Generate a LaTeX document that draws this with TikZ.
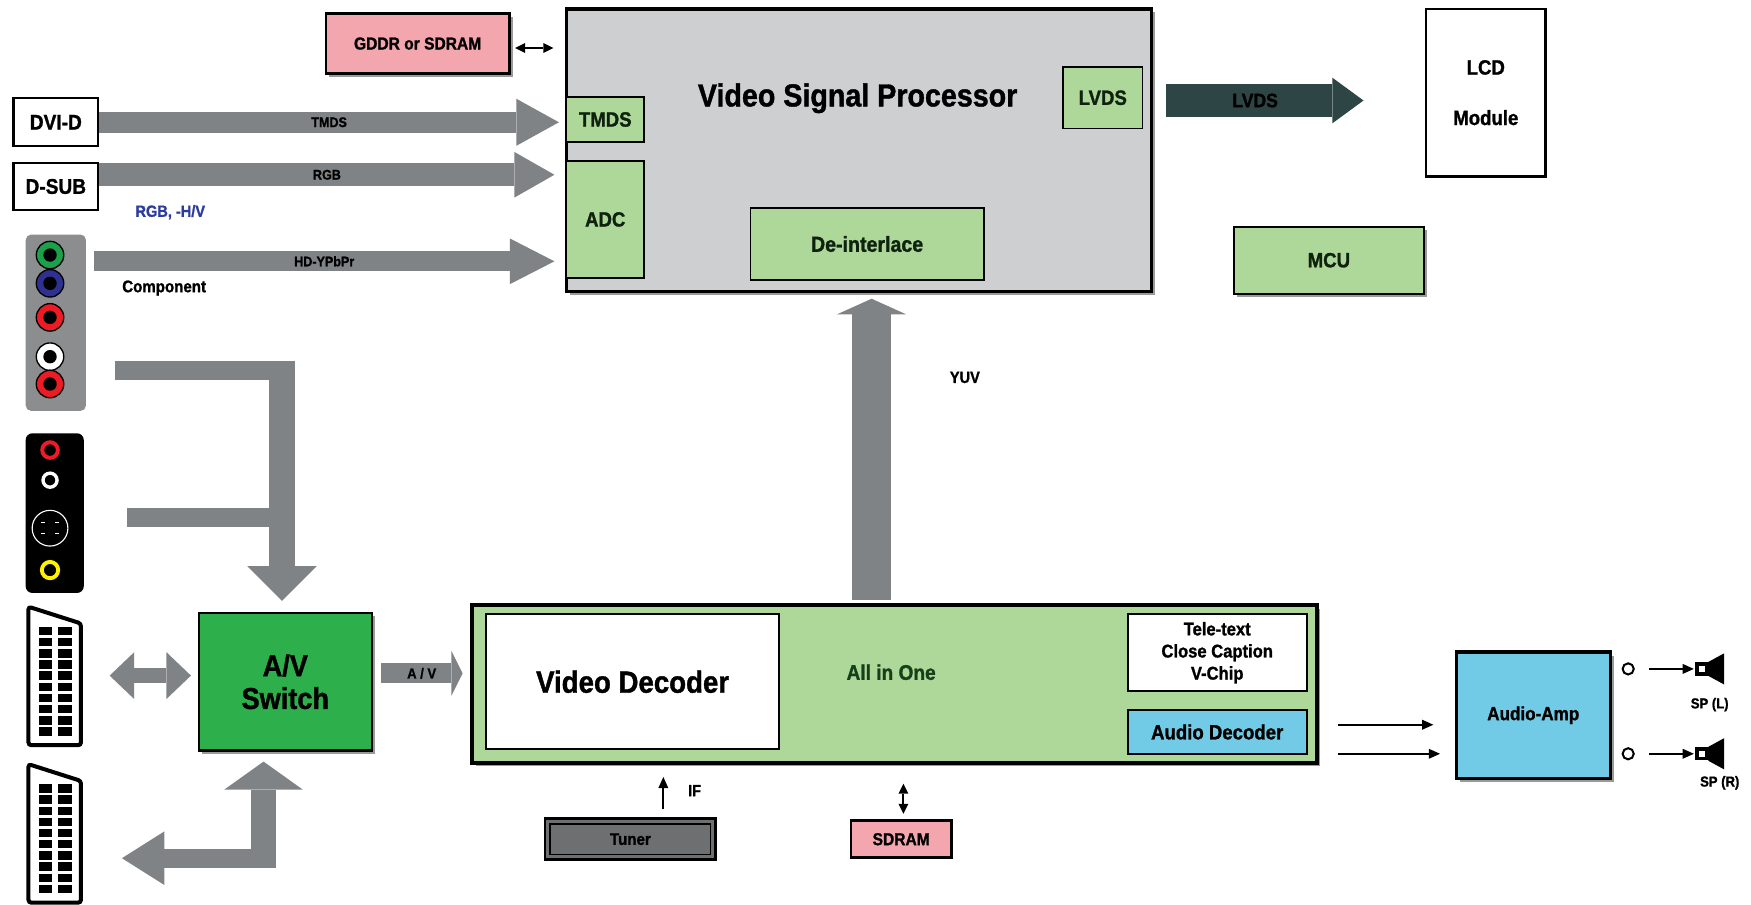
\documentclass[tikz,border=0pt]{standalone}
\usepackage{fontspec}
\setmainfont{Liberation Sans}[FakeStretch=0.9, BoldFeatures={FakeBold=1.2}]
\usetikzlibrary{arrows.meta,calc,shadows}
\definecolor{lgreen}{HTML}{AED899}
\definecolor{dgreen}{HTML}{2DB04B}
\definecolor{agray}{HTML}{808385}
\definecolor{vspgray}{HTML}{CDCFD1}
\definecolor{mypink}{HTML}{F3A6AE}
\definecolor{lblue}{HTML}{72CBE6}
\definecolor{dslate}{HTML}{2D4545}
\definecolor{tunergray}{HTML}{6D6F71}
\definecolor{panelgray}{HTML}{8B8D8F}
\definecolor{shadowgray}{HTML}{9A9A9A}
\definecolor{jgreen}{HTML}{1BA14B}
\definecolor{jblue}{HTML}{2E3192}
\definecolor{jred}{HTML}{ED1C24}
\definecolor{jyellow}{HTML}{FFF200}
\definecolor{rgbblue}{HTML}{2B3C9C}
\definecolor{txtgreen}{HTML}{0E220E}
\definecolor{aiotext}{HTML}{15401A}
\newcommand\myfs[1]{\fontsize{#1}{\fpeval{1.2*#1}}\selectfont}
\tikzset{
  fnt/.style={font=\bfseries\myfs{#1}},
  box/.style={draw=black, line width=2pt, inner sep=0pt, align=center, text=black},
  gbox/.style={box, fill=lgreen, line width=1.6pt, text=txtgreen},
  shad/.style={drop shadow={shadow xshift=3pt, shadow yshift=-3pt, fill=shadowgray, opacity=1}},
  lbl/.style={inner sep=0pt, text=black, align=center},
  barrow/.style n args={3}{draw=agray, line width=#1, -{Triangle[length=#2, width=#3, line width=0pt]}},
  dbarrow/.style n args={3}{draw=agray, line width=#1, {Triangle[length=#2, width=#3, line width=0pt]}-{Triangle[length=#2, width=#3, line width=0pt]}},
  tarrow/.style={draw=black, line width=1.8pt, -{Triangle[length=10pt, width=9pt, line width=0pt]}},
  tdarrow/.style={draw=black, line width=1.8pt, {Triangle[length=9pt, width=9pt, line width=0pt]}-{Triangle[length=9pt, width=9pt, line width=0pt]}},
}
\begin{document}
\begin{tikzpicture}[x=1pt,y=-1pt]
\useasboundingbox (0,0) rectangle (1568,810);
\fill[white] (0,0) rectangle (1568,810);

% ---------- Video Signal Processor ----------
\node[box, fill=vspgray, line width=3pt, shad, minimum width=524pt, minimum height=253pt] (vsp) at (769,134.5) {};
\node[lbl, fnt=28.5] (vsptitle) at (768,88) {Video Signal Processor};
\node[gbox, fnt=18.5, minimum width=70pt, minimum height=40pt] (tmds) at (542,107) {TMDS};
\node[gbox, fnt=18.5, minimum width=70pt, minimum height=105pt] (adc) at (542,196.5) {ADC};
\node[gbox, fnt=18.5, minimum width=71pt, minimum height=55pt] (lvdsin) at (987.5,87.5) {LVDS};
\node[gbox, fnt=19.5, minimum width=209pt, minimum height=65pt] (deint) at (776.5,218.5) {De-interlace};

% ---------- memory, LCD, MCU ----------
\node[box, fill=mypink, line width=2.5pt, shad, fnt=15.5, minimum width=164pt, minimum height=54pt] (gddr) at (374,39) {GDDR or SDRAM};
\node[box, fill=white, fnt=18.5, minimum width=107pt, minimum height=150pt] (lcd) at (1330.5,83) {LCD\\[23pt]Module};
\node[gbox, shad, fnt=18.5, minimum width=170pt, minimum height=60pt] (mcu) at (1190,233) {MCU};

% ---------- left inputs ----------
\node[box, fill=white, fnt=19, minimum width=76pt, minimum height=43pt] (dvi) at (50,109.5) {DVI-D};
\node[box, fill=white, fnt=19, minimum width=76pt, minimum height=42pt] (dsub) at (50,167) {D-SUB};
\node[lbl, fnt=14.5, text=rgbblue] (rgbhv) at (152.5,190) {RGB, -H/V};
\node[lbl, fnt=15] (complbl) at (147,258) {Component};

\node[fill=panelgray, rounded corners=5pt, minimum width=54pt, minimum height=158pt, inner sep=0pt] (comp) at (50,289) {};
\foreach \yy/\cc in {228.4/jgreen,253.7/jblue,284.2/jred,319.4/white,343.9/jred}{
  \filldraw[fill=\cc, draw=black, line width=1.2pt] (44.8,\yy) circle (12.3);
  \fill[black] (44.8,\yy) circle (6);
}
\node[fill=black, rounded corners=6pt, minimum width=52pt, minimum height=143pt, inner sep=0pt] (svid) at (49,459.5) {};
\draw[jred, line width=3.5pt] (44.8,403) circle (7);
\draw[white, line width=3pt] (44.8,430) circle (6.3);
\draw[white, line width=1pt] (44.8,473) circle (16);
\foreach \dx/\dy in {-6.5/-5,6.5/-5,-6.5/5,6.5/5}{
  \draw[white, line width=1.2pt] (44.8+\dx-1.8,473+\dy) -- (44.8+\dx+1.8,473+\dy);
}
\draw[jyellow, line width=3.5pt] (44.8,510.5) circle (7.3);

% ---------- SCART connectors ----------
\node[minimum width=50pt, minimum height=124pt, inner sep=0pt] (scart1) at (49,605) {};
\node[minimum width=50pt, minimum height=124pt, inner sep=0pt] (scart2) at (49,746) {};
\foreach \yy in {543.3,684.3}{
  \filldraw[fill=white, draw=black, line width=3.6pt, rounded corners=2.5pt]
    (25.5,\yy) -- (72.5,\yy+15) -- (72.5,\yy+124) -- (25.5,\yy+124) -- cycle;
  \foreach \i in {0,...,9}{
    \fill[black] (35.2,\yy+18+10*\i) rectangle (46.3,\yy+25.5+10*\i);
    \fill[black] (52.2,\yy+18+10*\i) rectangle (64.2,\yy+25.5+10*\i);
  }
}

% ---------- A/V switch ----------
\node[box, fill=dgreen, shad, fnt=27, minimum width=155pt, minimum height=123pt] (avsw) at (255.5,610.5) {A/V\\[-3pt]Switch};

% ---------- All in One ----------
\node[box, fill=lgreen, line width=3.5pt, shad, minimum width=756pt, minimum height=141pt] (aio) at (801,612.5) {};
\node[box, fill=white, line width=1.8pt, fnt=27.5, minimum width=263pt, minimum height=121pt] (vdec) at (566.5,610.5) {Video Decoder};
\node[lbl, fnt=19, text=aiotext] (allinone) at (798,602) {All in One};
\node[box, fill=white, line width=1.8pt, fnt=16.5, minimum width=160pt, minimum height=69pt] (tele) at (1090,584.5) {Tele-text\\Close Caption\\V-Chip};
\node[box, fill=lblue, line width=1.8pt, fnt=18.5, minimum width=160pt, minimum height=39pt] (adec) at (1090,655.5) {Audio Decoder};

% ---------- tuner, SDRAM ----------
\node[box, fill=tunergray, line width=2.5pt, fnt=15, minimum width=153pt, minimum height=37pt] (tuner) at (564.5,751.5) {Tuner};
\draw[line width=1.5pt] ($(tuner.north west)+(6,6)$) rectangle ($(tuner.south east)+(-6,-6)$);
\node[box, fill=mypink, line width=2.5pt, fnt=15.5, minimum width=90pt, minimum height=33pt] (sdram) at (807,751.5) {SDRAM};

% ---------- Audio amp ----------
\node[box, fill=lblue, line width=3pt, shad, fnt=17, minimum width=138pt, minimum height=113pt] (amp) at (1373,640.5) {Audio-Amp};
\node[circle, draw=black, fill=white, line width=1.8pt, minimum size=10pt, inner sep=0pt] (oL) at (1458,599) {};
\node[circle, draw=black, fill=white, line width=1.8pt, minimum size=10pt, inner sep=0pt] (oR) at (1458,675) {};
\node[fill=black, minimum size=12pt, inner sep=0pt] (spkL) at (1524,599) {};
\node[fill=black, minimum size=12pt, inner sep=0pt] (spkR) at (1524,675) {};
\foreach \sp in {spkL,spkR}{
  \fill[white] ($(\sp.center)+(-2.5,-2.5)$) rectangle ($(\sp.center)+(2.5,2.5)$);
  \fill[black] ($(\sp.north east)+(-0.5,0)$) -- ($(\sp.center)+(20,-14)$) -- ($(\sp.center)+(20,14)$) -- ($(\sp.south east)+(-0.5,0)$) -- cycle;
}
\node[lbl, fnt=13] (spLlbl) at (1531,631) {SP (L)};
\node[lbl, fnt=13] (spRlbl) at (1540,701) {SP (R)};

% ---------- block arrows ----------
\draw[barrow={19pt}{38pt}{42pt}] (dvi.east) -- ($(dvi.east -| vsp.west)+(-5,0)$)
  node[lbl, midway, fnt=12.5] {TMDS};
\draw[barrow={21pt}{36pt}{41pt}] ($(dsub.east)+(0,-10.5)$) -- ($(dsub.east -| vsp.west)+(-9,-10.5)$)
  node[lbl, midway, fnt=12.5] {RGB};
\draw[barrow={18pt}{40pt}{41pt}] ($(comp.east)+(7,-55)$) -- ($(comp.east -| vsp.west)+(-9,-55)$)
  node[lbl, midway, fnt=12.5] {HD-YPbPr};

\coordinate (k1) at (103,331.5);
\coordinate (k2) at (114,463.5);
\coordinate (kv) at (252.5,323);
\draw[agray, line width=17pt] (k1) -- ($(kv)+(11.5,8.5)$);
\draw[agray, line width=17pt] (k2) -- ($(kv)+(11.5,140.5)$);
\draw[barrow={23pt}{31pt}{62pt}] (kv) -- ($(avsw.north)+(-3,-10)$);

\draw[dbarrow={14pt}{22pt}{42pt}] ($(scart1.east)+(24,0)$) -- ($(avsw.west)+(-6,-5.5)$);

\coordinate (lc) at (236,777);
\draw[barrow={22pt}{25pt}{70pt}] (lc) -- ($(avsw.south)+(-19.5,9)$);
\draw[barrow={17pt}{38pt}{48pt}] ($(lc)+(11,-8.5)$) -- ($(scart2.east)+(35,22.5)$);

\draw[barrow={18pt}{10pt}{40pt}] ($(avsw.east)+(7,-7.5)$) -- ($(aio.west)+(-7,-9.5)$)
  node[lbl, midway, fnt=13] {A / V};

\draw[barrow={35pt}{14pt}{62pt}] ($(aio.north)+(-20.5,-3)$) -- ($(vsp.south)+(11.5,5)$);
\node[lbl, fnt=14.5] (yuv) at (864,338) {YUV};

\draw[barrow={29.5pt}{28pt}{41pt}, draw=dslate] ($(vsp.east)+(12,-44.5)$) -- ($(lcd.west)+(-55,7)$)
  node[lbl, pos=0.45, fnt=17.5] {LVDS};

% ---------- thin arrows ----------
\draw[tdarrow] ($(gddr.east)+(4,4)$) -- ($(gddr.east -| vsp.west)+(-10,4)$);
\draw[tarrow] ($(tuner.north)+(29.5,-7)$) -- ($(aio.south -| tuner.north)+(29.5,11)$);
\node[lbl, fnt=14.5] (iflbl) at (622,708) {IF};
\draw[tdarrow] ($(sdram.north)+(2,-5)$) -- ($(aio.south -| sdram.north)+(2,17)$);
\draw[tarrow] ($(aio.east)+(17,36.5)$) -- ($(amp.west)+(-19,8.5)$);
\draw[tarrow] ($(aio.east)+(17,62.5)$) -- ($(amp.west)+(-13,34.5)$);
\draw[tarrow] ($(oL.east)+(13,0)$) -- ($(spkL.west)+(-1,0)$);
\draw[tarrow] ($(oR.east)+(13,0)$) -- ($(spkR.west)+(-1,0)$);
\end{tikzpicture}
\end{document}
